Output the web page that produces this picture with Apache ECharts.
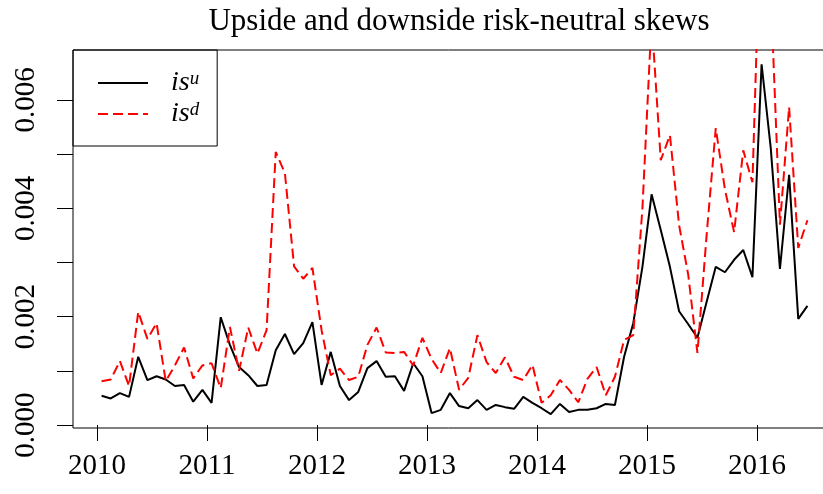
<!DOCTYPE html>
<html>
<head>
<meta charset="utf-8">
<script src="https://cdn.jsdelivr.net/npm/echarts@6/dist/echarts.min.js"></script>
<style>
  html, body { margin: 0; padding: 0; background: #fff; }
  #skewChart { width: 823px; height: 494px; }
</style>
</head>
<body>
<div id="skewChart"></div>
<script>
// monthly observations, Jan 2010 - Jun 2016
const startYear = 2010;

const upsideSkew = [
  0.00054, 0.00049, 0.00059, 0.00052, 0.00126, 0.00083, 0.00090, 0.00084, 0.00072, 0.00074,
  0.00043, 0.00065, 0.00041, 0.00199, 0.00148, 0.00107, 0.00092, 0.00072, 0.00074, 0.00138,
  0.00168, 0.00131, 0.00151, 0.00190, 0.00074, 0.00135, 0.00072, 0.00046, 0.00061, 0.00105,
  0.00118, 0.00089, 0.00090, 0.00063, 0.00114, 0.00090, 0.00022, 0.00028, 0.00059, 0.00035,
  0.00031, 0.00046, 0.00028, 0.00037, 0.00033, 0.00030, 0.00052, 0.00041, 0.00031, 0.00020,
  0.00039, 0.00024, 0.00028, 0.00028, 0.00031, 0.00039, 0.00037, 0.00126, 0.00188, 0.00292,
  0.00426, 0.00360, 0.00292, 0.00210, 0.00186, 0.00161, 0.00227, 0.00292, 0.00282, 0.00305,
  0.00323, 0.00273, 0.00666, 0.00511, 0.00288, 0.00462, 0.00196, 0.00220
];

const downsideSkew = [
  0.00081, 0.00084, 0.00118, 0.00072, 0.00209, 0.00159, 0.00188, 0.00081, 0.00110, 0.00143,
  0.00086, 0.00110, 0.00114, 0.00068, 0.00181, 0.00100, 0.00180, 0.00132, 0.00175, 0.00504,
  0.00465, 0.00293, 0.00270, 0.00290, 0.00175, 0.00092, 0.00104, 0.00083, 0.00089, 0.00148,
  0.00180, 0.00134, 0.00133, 0.00135, 0.00110, 0.00161, 0.00122, 0.00096, 0.00142, 0.00065,
  0.00087, 0.00166, 0.00116, 0.00096, 0.00125, 0.00089, 0.00083, 0.00111, 0.00041, 0.00055,
  0.00083, 0.00065, 0.00042, 0.00085, 0.00107, 0.00055, 0.00089, 0.00157, 0.00166, 0.00400,
  0.00750, 0.00489, 0.00535, 0.00369, 0.00277, 0.00133, 0.00350, 0.00548, 0.00435, 0.00356,
  0.00507, 0.00448, 0.01000, 0.00800, 0.00370, 0.00587, 0.00327, 0.00378
];

const yearTicks = [2010, 2011, 2012, 2013, 2014, 2015, 2016];
const yMinorTicks = [0, 0.001, 0.002, 0.003, 0.004, 0.005, 0.006];
const yLabelTicks = [0, 0.002, 0.004, 0.006];

// mid-month position in decimal years
const monthPos = upsideSkew.map((_, i) => startYear + (i + 0.5) / 12);
const toPairs = (vals) => vals.map((v, i) => [monthPos[i], v]);

const serif = '"Liberation Serif", "DejaVu Serif", serif';

const chart = echarts.init(document.getElementById('skewChart'));

const option = {
  animation: false,
  title: {
    text: 'Upside and downside risk-neutral skews',
    left: 454,
    textAlign: 'center',
    top: 1,
    textStyle: { fontFamily: serif, fontWeight: 'normal', fontSize: 31, color: '#000' }
  },
  legend: {
    left: 73,
    top: 50,
    orient: 'vertical',
    borderColor: '#000',
    borderWidth: 1,
    borderRadius: 0,
    padding: [19, 18, 18, 24],
    itemGap: 3,
    itemWidth: 50,
    itemHeight: 14,
    itemStyle: { opacity: 0 },
    textStyle: {
      padding: [0, 0, 0, 18],
      rich: {
        i: { fontFamily: serif, fontStyle: 'italic', fontSize: 28, color: '#000', lineHeight: 28 },
        s: { fontFamily: serif, fontStyle: 'italic', fontSize: 19, color: '#000', verticalAlign: 'top' }
      }
    },
    formatter: (name) => name === 'up' ? '{i|is}{s|u}' : '{i|is}{s|d}',
    data: ['up', 'down']
  },
  grid: {
    left: 73,
    top: 50,
    width: 763,
    height: 378,
    outerBoundsMode: 'none',
    show: true,
    borderColor: '#000',
    borderWidth: 1
  },
  xAxis: {
    type: 'value',
    min: 2009.782,
    max: 2016.718,
    axisLine: { show: false },
    splitLine: { show: false },
    axisTick: {
      show: true,
      length: 16,
      customValues: yearTicks,
      lineStyle: { color: '#000' }
    },
    axisLabel: {
      customValues: yearTicks,
      margin: 24,
      fontFamily: serif,
      fontSize: 29,
      color: '#000',
      formatter: (v) => String(Math.round(v))
    }
  },
  yAxis: {
    type: 'value',
    min: -0.000055,
    max: 0.006923,
    axisLine: { show: false },
    splitLine: { show: false },
    axisTick: {
      show: true,
      length: 16,
      customValues: yMinorTicks,
      lineStyle: { color: '#000' }
    },
    axisLabel: {
      customValues: yLabelTicks,
      rotate: 90,
      margin: 32,
      fontFamily: serif,
      fontSize: 29,
      color: '#000',
      formatter: (v) => v.toFixed(3)
    }
  },
  series: [
    {
      name: 'up',
      type: 'line',
      symbol: 'none',
      data: toPairs(upsideSkew),
      lineStyle: { color: '#000', width: 2 },
      itemStyle: { color: '#000' }
    },
    {
      name: 'down',
      type: 'line',
      symbol: 'none',
      data: toPairs(downsideSkew),
      lineStyle: { color: '#ff0000', width: 2, type: [10, 5] },
      itemStyle: { color: '#ff0000' }
    }
  ]
};

chart.setOption(option);
</script>
</body>
</html>
